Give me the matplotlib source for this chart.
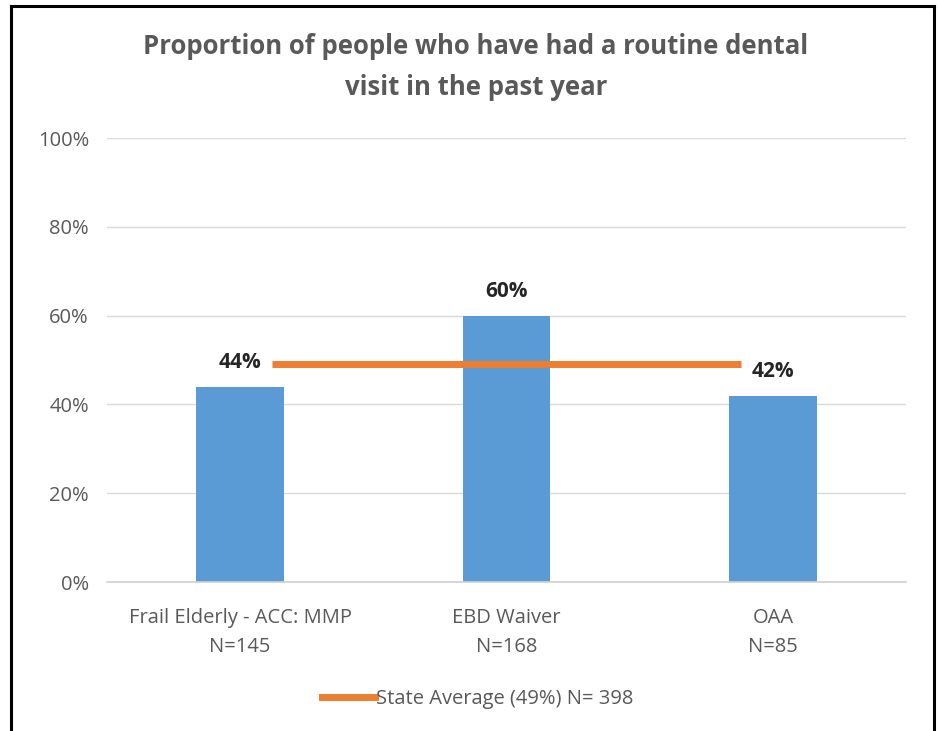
import matplotlib
matplotlib.use("Agg")
import matplotlib.pyplot as plt
from matplotlib.lines import Line2D
from matplotlib.ticker import FuncFormatter

categories = ["Frail Elderly - ACC: MMP\nN=145", "EBD Waiver\nN=168", "OAA\nN=85"]
values = [44, 60, 42]
value_labels = ["44%", "60%", "42%"]
state_avg = 49
state_label = "State Average (49%) N= 398"
title = "Proportion of people who have had a routine dental\nvisit in the past year"

plt.rcParams['font.family'] = ['Open Sans', 'DejaVu Sans']

W, H = 938, 731
fig = plt.figure(figsize=(W/100, H/100), dpi=100)
ax = fig.add_axes([107/W, 1-582/H, (906-107)/W, (582-138)/H])

x = list(range(len(categories)))
ax.bar(x, values, width=0.33, color="#5B9BD5", zorder=2)
ax.plot([0.12, 1.88], [state_avg, state_avg], color="#ED7D31", lw=5, zorder=3,
        solid_capstyle='butt')

for xi, v, lab in zip(x, values, value_labels):
    ax.annotate(lab, (xi, v), xytext=(0, 10), textcoords="offset points",
                ha="center", va="bottom", fontsize=15, fontweight="bold", color="#262626")

ax.set_xlim(-0.5, 2.5)
ax.set_ylim(0, 100)
ax.set_yticks(range(0, 101, 20))
ax.yaxis.set_major_formatter(FuncFormatter(lambda v, p: f"{int(v)}%"))
ax.set_xticks(x)
ax.set_xticklabels(categories, fontsize=14.5, color="#595959", linespacing=1.55)
ax.tick_params(axis='y', labelsize=14.5, labelcolor="#595959", length=0, pad=13)
ax.tick_params(axis='x', length=0, pad=19)
ax.grid(axis='y', color="#D9D9D9", lw=1, zorder=0)
for s in ["top", "right", "left"]:
    ax.spines[s].set_visible(False)
ax.spines["bottom"].set_color("#D0D0D0")
ax.spines["bottom"].set_linewidth(1.2)

fig.text(476/W, 1-67/H, title, ha="center", va="center", fontsize=18.5,
         fontweight="bold", color="#595959", linespacing=1.65)

# legend
fig.add_artist(Line2D([322/W, 375/W], [1-697/H, 1-697/H], color="#ED7D31", lw=5,
                      transform=fig.transFigure))
fig.text(376/W, 1-699/H, state_label, ha="left", va="center", fontsize=14.5, color="#595959")

# border
bc = "black"
fig.add_artist(Line2D([11/W, 11/W], [0, 1-6/H], color=bc, lw=2.2, transform=fig.transFigure))
fig.add_artist(Line2D([11/W, 934/W], [1-6/H, 1-6/H], color=bc, lw=2.2, transform=fig.transFigure))
fig.add_artist(Line2D([934/W, 934/W], [0, 1-6/H], color=bc, lw=2.2, transform=fig.transFigure))

fig.savefig("out.png", dpi=100)
